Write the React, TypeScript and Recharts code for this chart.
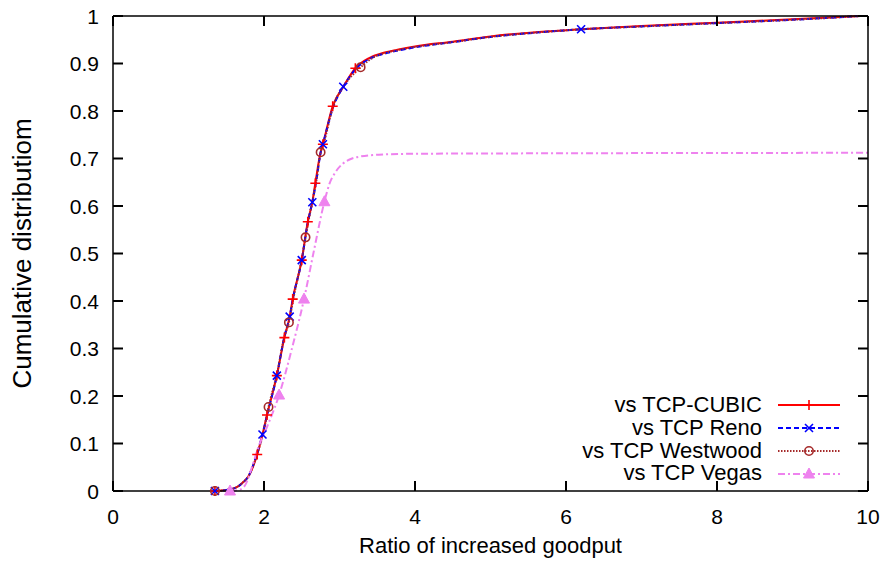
import { ComposedChart, Line, Scatter, XAxis, YAxis, Legend, ReferenceDot } from "recharts";

const FONT = '"Liberation Sans", Arial, Helvetica, sans-serif';

// x ticks / y ticks
const xTicks = [0, 2, 4, 6, 8, 10];
const yTicks = [0, 0.1, 0.2, 0.3, 0.4, 0.5, 0.6, 0.7, 0.8, 0.9, 1];
const yTickLabels = ["0", "0.1", "0.2", "0.3", "0.4", "0.5", "0.6", "0.7", "0.8", "0.9", "1"];

const seriesNames = ["vs TCP-CUBIC", "vs TCP Reno", "vs TCP Westwood", "vs TCP Vegas"];

// CDF curves as [ratio, cumulative]
const cubicCurve = [
  [1.35, 0], [1.5, 0.002], [1.64, 0.008], [1.72, 0.018], [1.79, 0.03], [1.91, 0.077],
  [1.98, 0.119], [2.04, 0.16], [2.17, 0.243], [2.27, 0.323], [2.34, 0.367], [2.38, 0.404],
  [2.5, 0.486], [2.58, 0.567], [2.64, 0.608], [2.68, 0.648], [2.75, 0.713], [2.78, 0.73],
  [2.91, 0.81], [3.05, 0.851], [3.21, 0.89], [3.4, 0.912], [3.6, 0.923], [3.8, 0.93],
  [4.0, 0.936], [4.5, 0.946], [5.0, 0.957], [5.6, 0.966], [6.2, 0.972], [7.0, 0.979],
  [8.0, 0.986], [9.0, 0.993], [9.9, 1],
];
const renoCurve = [
  [1.35, 0], [1.5, 0.002], [1.64, 0.008], [1.72, 0.018], [1.79, 0.03], [1.9, 0.075],
  [1.98, 0.119], [2.05, 0.165], [2.17, 0.243], [2.27, 0.325], [2.34, 0.367], [2.39, 0.41],
  [2.5, 0.486], [2.58, 0.565], [2.64, 0.608], [2.69, 0.65], [2.75, 0.712], [2.78, 0.73],
  [2.92, 0.81], [3.05, 0.851], [3.22, 0.889], [3.4, 0.91], [3.6, 0.921], [3.8, 0.928],
  [4.0, 0.934], [4.5, 0.945], [5.0, 0.956], [5.6, 0.965], [6.2, 0.972], [7.0, 0.978],
  [8.0, 0.985], [9.0, 0.992], [9.9, 1],
];
const westwoodCurve = [
  [1.35, 0], [1.5, 0.002], [1.64, 0.008], [1.72, 0.018], [1.79, 0.03], [1.91, 0.078],
  [1.99, 0.122], [2.06, 0.177], [2.17, 0.245], [2.27, 0.325], [2.33, 0.355], [2.39, 0.406],
  [2.5, 0.488], [2.55, 0.534], [2.64, 0.61], [2.69, 0.65], [2.75, 0.713], [2.79, 0.732],
  [2.92, 0.812], [3.06, 0.853], [3.28, 0.892], [3.45, 0.913], [3.6, 0.922], [3.8, 0.929],
  [4.0, 0.935], [4.5, 0.945], [5.0, 0.956], [5.6, 0.965], [6.2, 0.972], [7.0, 0.978],
  [8.0, 0.985], [9.0, 0.992], [9.9, 1],
];
const vegasCurve = [
  [1.55, 0], [1.68, 0.003], [1.76, 0.015], [1.84, 0.05], [1.92, 0.09], [2.04, 0.135],
  [2.2, 0.202], [2.37, 0.3], [2.53, 0.404], [2.66, 0.505], [2.8, 0.609], [2.87, 0.648],
  [2.95, 0.672], [3.05, 0.69], [3.15, 0.699], [3.27, 0.704], [3.52, 0.708], [4.0, 0.71],
  [6.0, 0.711], [10, 0.712],
];

// point markers drawn every few samples
const cubicMarks = [
  [1.35, 0], [1.91, 0.077], [2.04, 0.16], [2.17, 0.243], [2.27, 0.323], [2.38, 0.404],
  [2.5, 0.486], [2.58, 0.567], [2.68, 0.648], [2.78, 0.73], [2.91, 0.81], [3.21, 0.89],
];
const renoMarks = [
  [1.35, 0], [1.98, 0.119], [2.17, 0.243], [2.34, 0.367], [2.5, 0.486], [2.64, 0.608],
  [2.78, 0.73], [3.05, 0.851], [6.2, 0.972],
];
const westwoodMarks = [[1.35, 0], [2.06, 0.177], [2.33, 0.355], [2.55, 0.534], [2.75, 0.713], [3.28, 0.892]];
const vegasMarks = [[1.55, 0], [2.2, 0.202], [2.53, 0.404], [2.8, 0.609]];

const toPts = (a: number[][]) => a.map(([x, y]) => ({ x, y }));

const plus = (cx: number, cy: number, c: string) => (
  <path d={`M${cx - 5},${cy}H${cx + 5}M${cx},${cy - 5}V${cy + 5}`} stroke={c} strokeWidth={1.6} fill="none" />
);
const cross = (cx: number, cy: number, c: string) => (
  <path d={`M${cx - 4},${cy - 4}L${cx + 4},${cy + 4}M${cx - 4},${cy + 4}L${cx + 4},${cy - 4}`} stroke={c} strokeWidth={1.6} fill="none" />
);
const ring = (cx: number, cy: number, c: string) => (
  <circle cx={cx} cy={cy} r={4.2} stroke={c} strokeWidth={1.6} fill="none" />
);
const tri = (cx: number, cy: number, c: string) => (
  <path d={`M${cx},${cy - 6}L${cx + 5.5},${cy + 4}L${cx - 5.5},${cy + 4}Z`} stroke={c} strokeWidth={1} fill={c} />
);

const styles = [
  { color: "#ff0000", dash: undefined, mark: plus },
  { color: "#0000ff", dash: "5 3", mark: cross },
  { color: "#a52a2a", dash: "1.5 1.5", mark: ring },
  { color: "#ee82ee", dash: "7 3 2 3", mark: tri },
];
const curves = [cubicCurve, renoCurve, westwoodCurve, vegasCurve];
const marks = [cubicMarks, renoMarks, westwoodMarks, vegasMarks];

function LegendBox() {
  return (
    <div style={{ fontFamily: FONT, fontSize: 22, color: "#000" }}>
      {seriesNames.map((name, i) => {
        const s = styles[i];
        return (
          <div key={name} style={{ display: "flex", alignItems: "center", justifyContent: "flex-end", height: 22.8 }}>
            <span style={{ lineHeight: "22.8px", whiteSpace: "nowrap" }}>{name}</span>
            <svg width={62} height={20} style={{ marginLeft: 16, display: "block" }}>
              <line x1={0} x2={62} y1={10} y2={10} stroke={s.color} strokeWidth={2} strokeDasharray={s.dash} />
              {s.mark(31, 10, s.color)}
            </svg>
          </div>
        );
      })}
    </div>
  );
}

const BottomLabel = (p: any) => (
  <text x={p.x} y={p.y} dy="0.71em" textAnchor="middle" fontFamily={FONT} fontSize={21} fill="#000">
    {p.payload.value}
  </text>
);
const LeftLabel = (p: any) => (
  <text x={p.x} y={p.y} dy="0.36em" textAnchor="end" fontFamily={FONT} fontSize={21} fill="#000">
    {yTickLabels[yTicks.indexOf(p.payload.value)]}
  </text>
);

// gnuplot style ticks: short inward marks, mirrored on all four sides
const TL = 10;
const tickMark = (dx: number, dy: number) => (p: any) => (
  <path d={`M${p.cx},${p.cy}l${dx},${dy}`} stroke="#000" strokeWidth={2} fill="none" />
);
const upMark = tickMark(0, -TL);
const downMark = tickMark(0, TL);
const rightMark = tickMark(TL, 0);
const leftMark = tickMark(-TL, 0);

export default function App() {
  return (
    <div style={{ position: "absolute", left: 0, top: 0, width: 885, height: 563, background: "#fff" }}>
      <ComposedChart width={885} height={563} margin={{ top: 0, right: 0, bottom: 0, left: 0 }}>
        <XAxis
          xAxisId="b"
          dataKey="x"
          type="number"
          domain={[0, 10]}
          ticks={xTicks}
          height={72}
          tickSize={0}
          tickMargin={18}
          tickLine={false}
          tick={BottomLabel}
          stroke="#000"
          strokeWidth={1.5}
          label={{ value: "Ratio of increased goodput", position: "insideBottom", offset: 10, style: { fontFamily: FONT, fontSize: 22, fill: "#000" } }}
        />
        <XAxis xAxisId="t" orientation="top" dataKey="x" type="number" domain={[0, 10]} ticks={xTicks} height={16} tickLine={false} tick={false} stroke="#000" strokeWidth={1.5} />
        <YAxis
          yAxisId="l"
          type="number"
          domain={[0, 1]}
          ticks={yTicks}
          width={113}
          tickSize={0}
          tickMargin={14}
          tickLine={false}
          tick={LeftLabel}
          stroke="#000"
          strokeWidth={1.5}
          label={{ value: "Cumulative distributiom", angle: -90, position: "center", dx: -35, style: { fontFamily: FONT, fontSize: 26, fill: "#000" } }}
        />
        <YAxis yAxisId="r" orientation="right" type="number" domain={[0, 1]} ticks={yTicks} width={17} tickLine={false} tick={false} stroke="#000" strokeWidth={1.5} />
        {xTicks.map((t) => (
          <ReferenceDot key={"xb" + t} xAxisId="b" yAxisId="l" x={t} y={0} ifOverflow="visible" shape={upMark} />
        ))}
        {xTicks.map((t) => (
          <ReferenceDot key={"xt" + t} xAxisId="b" yAxisId="l" x={t} y={1} ifOverflow="visible" shape={downMark} />
        ))}
        {yTicks.map((t) => (
          <ReferenceDot key={"yl" + t} xAxisId="b" yAxisId="l" x={0} y={t} ifOverflow="visible" shape={rightMark} />
        ))}
        {yTicks.map((t) => (
          <ReferenceDot key={"yr" + t} xAxisId="b" yAxisId="l" x={10} y={t} ifOverflow="visible" shape={leftMark} />
        ))}
        {curves.map((c, i) => (
          <Line
            key={"l" + i}
            xAxisId="b"
            yAxisId="l"
            data={toPts(c)}
            dataKey="y"
            type="monotone"
            stroke={styles[i].color}
            strokeWidth={2}
            strokeDasharray={styles[i].dash}
            dot={false}
            activeDot={false}
            isAnimationActive={false}
          />
        ))}
        {marks.map((m, i) => (
          <Scatter
            key={"m" + i}
            xAxisId="b"
            yAxisId="l"
            data={toPts(m)}
            dataKey="y"
            isAnimationActive={false}
            shape={(p: any) => styles[i].mark(p.cx, p.cy, styles[i].color)}
          />
        ))}
        <Legend
          layout="horizontal"
          verticalAlign="middle"
          content={() => <LegendBox />}
          wrapperStyle={{ left: 540, top: 394, width: 300 }}
        />
      </ComposedChart>
    </div>
  );
}
